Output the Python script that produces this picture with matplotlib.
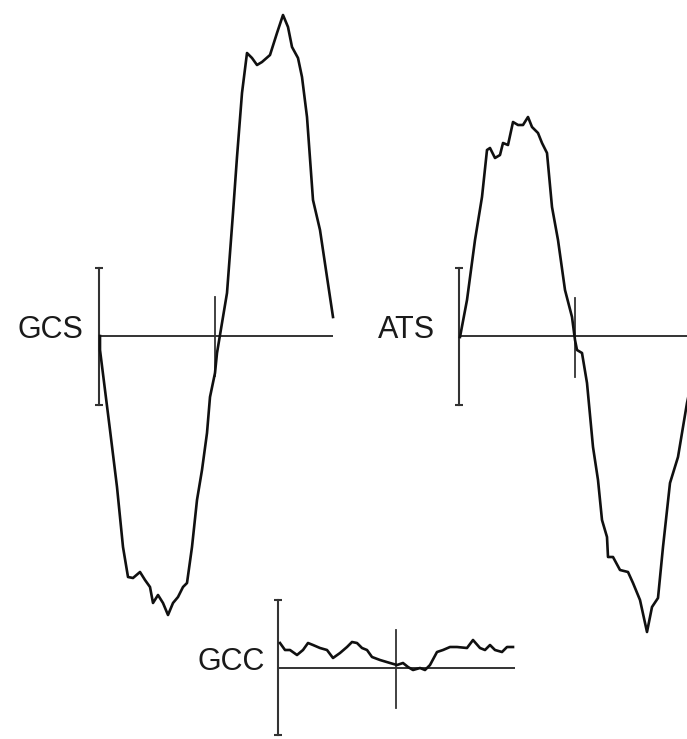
import matplotlib
matplotlib.use("Agg")
import matplotlib.pyplot as plt

# --- Trace data: time from trigger (px units) and amplitude above baseline ---
gcs_t = [0, 0, 10, 17, 23, 28, 33, 40, 45, 50, 53, 58, 63, 68, 73, 78, 83, 87, 92, 97,
         102, 107, 110, 115, 117, 120, 127, 133, 137, 142, 147, 152, 157, 162, 170, 177,
         183, 188, 192, 198, 202, 207, 213, 220, 227, 233]
gcs_a = [0, -14, -94, -151, -211, -241, -242, -236, -244, -251, -267, -259, -267, -279,
         -267, -261, -251, -247, -211, -164, -134, -97, -61, -37, -17, 1, 43, 123, 179,
         243, 283, 278, 271, 274, 281, 303, 321, 309, 289, 278, 259, 219, 136, 106, 59, 19]

ats_t = [0, 7, 15, 22, 27, 30, 35, 40, 43, 48, 53, 58, 63, 68, 72, 78, 82, 87, 92, 98,
         105, 112, 115, 117, 122, 127, 133, 138, 142, 147, 148, 153, 160, 168, 173, 180,
         187, 192, 198, 203, 210, 218, 227, 234]
ats_a = [-1, 36, 96, 139, 186, 188, 178, 181, 193, 191, 214, 211, 211, 219, 209, 203,
         193, 183, 129, 96, 46, 19, -4, -14, -17, -47, -111, -144, -184, -201, -221,
         -221, -234, -236, -247, -264, -296, -271, -262, -211, -147, -121, -67, -34]

gcc_t = [0, 5, 10, 17, 23, 28, 33, 40, 47, 53, 60, 67, 72, 77, 82, 87, 92, 100, 110,
         117, 123, 128, 133, 140, 145, 150, 157, 163, 170, 177, 187, 193, 200, 205, 210,
         215, 222, 227, 233]
gcc_a = [25, 18, 18, 13, 18, 25, 23, 20, 18, 10, 15, 21, 26, 25, 20, 18, 11, 8, 5, 3,
         5, 1, -2, 0, -2, 3, 16, 18, 21, 21, 20, 28, 20, 18, 23, 18, 16, 21, 21]

labels = ["GCS", "ATS", "GCC"]

# start / mid marker ticks (time, top, bottom) for each trace
start_ticks = [(-1, 68, -69), (-1, 68, -69), (-2, 68, -67)]
mid_ticks = [(115, 39, -40), (115, 38, -41), (116, 38, -40)]
baseline_ends = [(-1, 233), (0, 240), (-2, 235)]

# --- Layout: pixel origin of each trace and label offset ---
W, H = 687, 739
origins = [(100, 336), (460, 336), (280, 668)]
label_dx = [-17, -25, -15]

fig = plt.figure(figsize=(W / 100, H / 100), dpi=100)
fig.patch.set_facecolor("white")

trace_color = "#101010"
line_color = "#333333"

for (t, a), lab, (x0, y0), dx, st, mt, be in zip(
        [(gcs_t, gcs_a), (ats_t, ats_a), (gcc_t, gcc_a)], labels, origins,
        label_dx, start_ticks, mid_ticks, baseline_ends):
    ax = fig.add_axes([0, 0, 1, 1])
    ax.patch.set_alpha(0)
    ax.set_xlim(-x0, W - x0)
    ax.set_ylim(-(H - y0), y0)
    ax.axis("off")

    # baseline
    ax.plot([be[0], be[1]], [0, 0], color=line_color, lw=1.4, solid_capstyle="butt")
    # start tick with end caps
    ax.plot([st[0], st[0]], [st[1], st[2]], color=line_color, lw=1.5,
            marker="_", markersize=6, markeredgewidth=1.5)
    # mid tick
    ax.plot([mt[0], mt[0]], [mt[1], mt[2]], color=line_color, lw=1.3)
    # signal
    ax.plot(t, a, color=trace_color, lw=1.9, solid_joinstyle="round")
    ax.text(dx, -2, lab, ha="right", va="baseline", fontsize=22,
            family="Liberation Sans", color="#1a1a1a")

fig.savefig("out.png", dpi=100, facecolor="white")
plt.close(fig)
